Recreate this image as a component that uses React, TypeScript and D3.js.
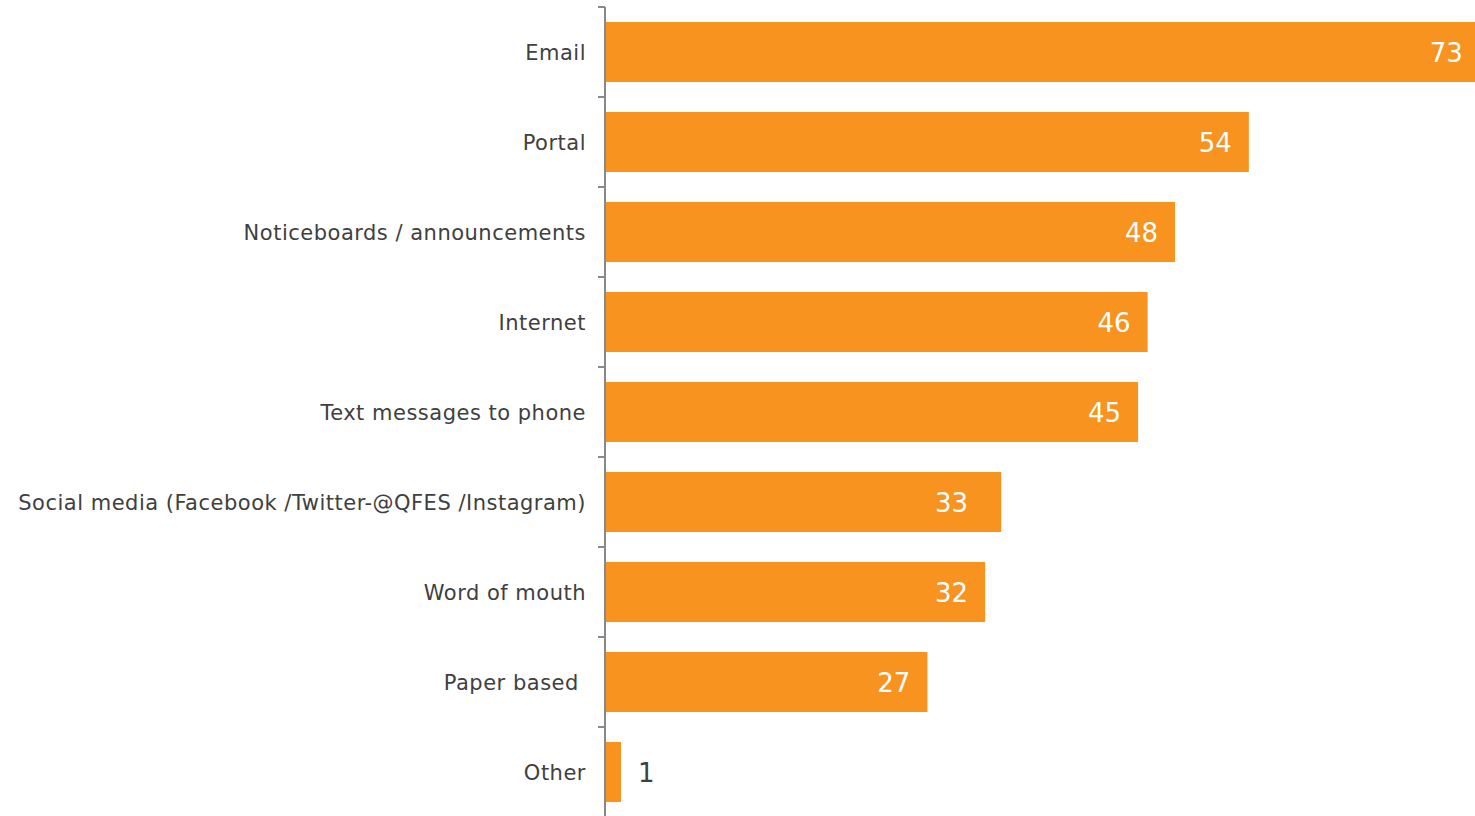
import React from "react";
import * as d3 from "d3";

const categories = [
  "Email",
  "Portal",
  "Noticeboards / announcements",
  "Internet",
  "Text messages to phone",
  "Social media (Facebook /Twitter-@QFES /Instagram)",
  "Word of mouth",
  "Paper based\u00A0",
  "Other",
];
const values = [73.4, 54.0, 47.8, 45.5, 44.7, 33.2, 31.85, 27.0, 1.26];
const valueLabels = ["73", "54", "48", "46", "45", "33", "32", "27", "1"];
// value at which each data label is anchored (the "33" label sits slightly left in the source)
const labelAnchors = [73.4, 54.0, 47.8, 45.5, 44.7, 31.85, 31.85, 27.0, 1.26];

const W = 1475;
const H = 816;
const axisX = 605;
const orange = "#F7931E";
const textColor = "#404040";

export default function App() {
  const y = d3
    .scaleBand<string>()
    .domain(categories)
    .range([7, 817])
    .paddingInner(1 / 3)
    .paddingOuter(1 / 6);
  const x = d3.scaleLinear().domain([0, 73]).range([606, 1475]);
  const ticks = d3.range(categories.length + 1).map((i) => 7 + i * y.step());

  return (
    <div style={{ position: "absolute", left: 0, top: 0 }}>
      <svg
        width={W}
        height={H}
        style={{ display: "block" }}
        fontFamily="'DejaVu Sans', Verdana, sans-serif"
      >
        <rect x={0} y={0} width={W} height={H} fill="#fff" />
        {categories.map((c, i) => {
          const v = values[i];
          const by = y(c)!;
          const bh = y.bandwidth();
          const xe = x(v);
          const xa = x(labelAnchors[i]);
          const inside = xe - x(0) > 60;
          return (
            <g key={c}>
              <rect x={x(0)} y={by} width={xe - x(0)} height={bh} fill={orange} />
              <text
                x={586}
                y={by + bh / 2}
                dy="0.36em"
                textAnchor="end"
                fontSize={21}
                letterSpacing={0.5}
                fill={textColor}
                style={{ whiteSpace: "pre" }}
              >
                {c}
              </text>
              <text
                x={inside ? xa - 17 : xa + 17}
                y={by + bh / 2}
                dy="0.38em"
                textAnchor={inside ? "end" : "start"}
                fontSize={26}
                fill={inside ? "#fff" : textColor}
              >
                {valueLabels[i]}
              </text>
            </g>
          );
        })}
        <line x1={axisX} x2={axisX} y1={7} y2={816} stroke="#898989" strokeWidth={2} />
        {ticks.map((t, i) => (
          <line key={i} x1={598} x2={axisX} y1={t} y2={t} stroke="#898989" strokeWidth={2} />
        ))}
      </svg>
    </div>
  );
}
